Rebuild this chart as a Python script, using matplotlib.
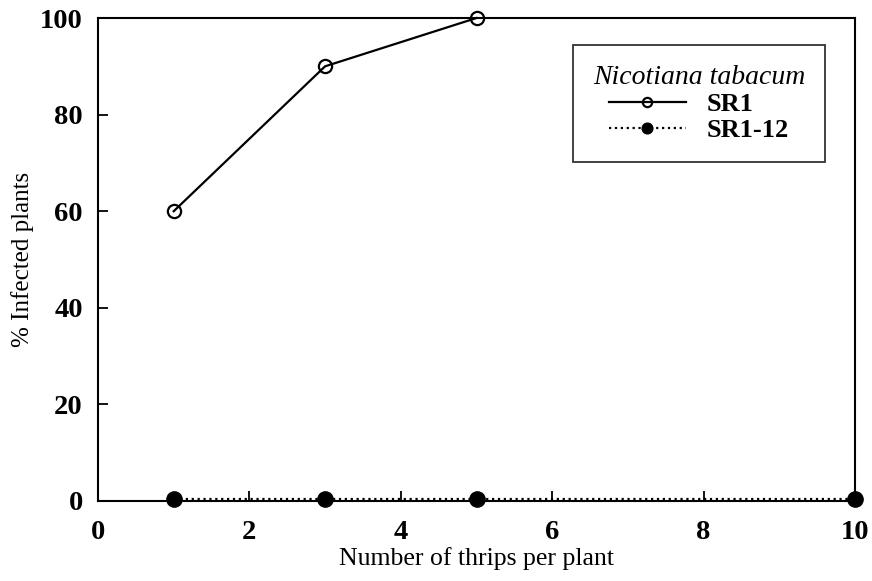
import matplotlib
matplotlib.use("Agg")
import matplotlib.pyplot as plt

# data
thrips_sr1 = [1, 3, 5]
infected_sr1 = [60, 90, 100]
thrips_sr112 = [1, 3, 5, 10]
infected_sr112 = [0.5, 0.5, 0.5, 0.5]

x_ticks = [0, 2, 4, 6, 8, 10]
y_ticks = [0, 20, 40, 60, 80, 100]

plt.rcParams['font.family'] = ['Liberation Serif', 'DejaVu Serif']

fig = plt.figure(figsize=(8.72, 5.81), dpi=100)
ax = fig.add_axes([0.1124, 0.1377, 0.8681, 0.8313])

ax.plot(thrips_sr1, infected_sr1, color='black', lw=1.6, ls='-',
        marker='o', ms=9.5, mfc='none', mec='black', mew=1.6, label='SR1',
        clip_on=False)
ax.plot(thrips_sr112, infected_sr112, color='black', lw=1.6, ls=':',
        marker='o', ms=11, mfc='black', mec='black', label='SR1-12',
        clip_on=False, zorder=5)

ax.set_xlim(0, 10)
ax.set_ylim(0, 100)
ax.set_xticks(x_ticks)
ax.set_yticks(y_ticks)
ax.tick_params(direction='in', length=7, width=1.3, labelsize=20.5)
ax.tick_params(axis='x', pad=14)
ax.tick_params(axis='y', pad=11)
for lbl in ax.get_xticklabels() + ax.get_yticklabels():
    lbl.set_fontweight('bold')
for sp in ax.spines.values():
    sp.set_linewidth(1.5)

ax.set_xlabel("Number of thrips per plant", fontsize=18.5, labelpad=1)
ax.set_ylabel("% Infected plants", fontsize=18, labelpad=4)

leg = ax.legend(title="Nicotiana tabacum", loc='upper right',
                bbox_to_anchor=(0.9604, 0.944), borderaxespad=0,
                prop={'weight': 'bold', 'size': 19},
                title_fontproperties={'style': 'italic', 'size': 20},
                frameon=True, fancybox=False, edgecolor='black',
                handlelength=2.9, borderpad=0.75, labelspacing=0.1,
                handletextpad=0.8, markerscale=0.7)
leg.get_frame().set_linewidth(1.3)

fig.savefig("out.png", dpi=100)
